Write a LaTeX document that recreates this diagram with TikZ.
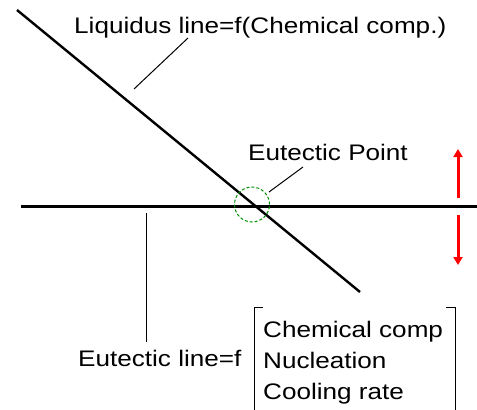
\documentclass[tikz,border=0pt]{standalone}
\usepackage{fontspec}
\setmainfont{Liberation Sans}
\usetikzlibrary{arrows.meta}
\tikzset{
  lbl/.style={anchor=base west, inner sep=0pt, font=\fontsize{22.5}{22.5}\selectfont},
  mainline/.style={line width=2.4pt, black},
  leader/.style={line width=1pt, black},
  redarrow/.style={line width=3pt, red, -{Triangle[width=9pt,length=8pt]}},
  eucircle/.style={draw=green!55!black, line width=1pt, dash pattern=on 3pt off 2pt}
}
\newcommand{\wide}[1]{\scalebox{1.16}[1]{#1}}
\begin{document}
\begin{tikzpicture}[x=1pt,y=-1pt]
\useasboundingbox (0,0) rectangle (477,410);
% coordinates
\coordinate (liqA) at (17,10);
\coordinate (liqB) at (360,292);
\coordinate (eutA) at (21,206);
\coordinate (eutB) at (477,206);
\coordinate (ep) at (252,204.5);
% main lines
\draw[mainline] (liqA) -- (liqB);
\draw[mainline, line width=3pt] (eutA) -- (eutB);
% eutectic point circle
\node[eucircle, circle, minimum size=35pt, inner sep=0pt] (epc) at (ep) {};
% labels
\node[lbl] (liqlbl) at (74,33) {\wide{Liquidus line=f(Chemical comp.)}};
\node[lbl] (eplbl) at (248,160) {\wide{Eutectic Point}};
\node[lbl] (eullbl) at (78,366) {\wide{Eutectic line=f}};
\node[lbl] (c1) at (263,337) {\wide{Chemical comp}};
\node[lbl] (c2) at (263,368) {\wide{Nucleation}};
\node[lbl] (c3) at (263,399) {\wide{Cooling rate}};
% leaders
\coordinate (liqLeadA) at (134,89);
\coordinate (liqLeadB) at (188,38);
\draw[leader] (liqLeadA) -- (liqLeadB);
\coordinate (epLeadA) at (269,192);
\coordinate (epLeadB) at (303,167);
\draw[leader] (epLeadA) -- (epLeadB);
\coordinate (euLeadA) at (146,213);
\coordinate (euLeadB) at (146,342);
\draw[leader] (euLeadA) -- (euLeadB);
% brackets
\coordinate (bl1) at (263,307);
\coordinate (bl2) at (254,307);
\coordinate (bl3) at (254,415);
\draw[leader] (bl1) -- (bl2) -- (bl3);
\coordinate (br1) at (446,307);
\coordinate (br2) at (455,307);
\coordinate (br3) at (455,415);
\draw[leader] (br1) -- (br2) -- (br3);
% red arrows
\coordinate (upA) at (458,198);
\coordinate (upB) at (458,149);
\coordinate (dnA) at (458,215);
\coordinate (dnB) at (458,265);
\draw[redarrow] (upA) -- (upB);
\draw[redarrow] (dnA) -- (dnB);
\end{tikzpicture}
\end{document}
